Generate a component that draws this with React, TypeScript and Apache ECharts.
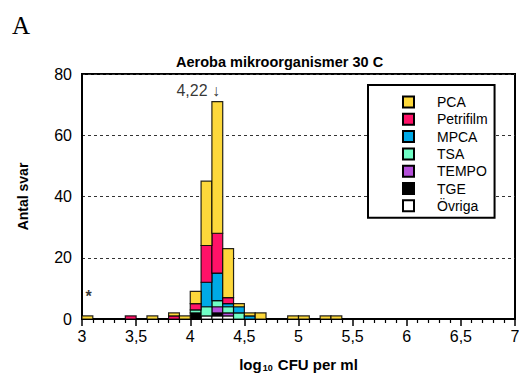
import React, { useEffect, useRef } from "react";
import * as echarts from "echarts";

// Lower edge of each 0.1-wide log10 bin that holds at least one answer
const BIN_STARTS = [3.0, 3.4, 3.6, 3.8, 3.9, 4.0, 4.1, 4.2, 4.3, 4.4, 4.5, 4.6, 4.9, 5.0, 5.2, 5.3];
const BIN_WIDTH = 0.1;

// Answers per method and bin (same order as BIN_STARTS)
const PCA = [1, 0, 1, 1, 1, 4, 21, 43, 16, 1, 1, 2, 1, 1, 1, 1];
const PETRIFILM = [0, 1, 0, 1, 0, 2, 12, 13, 2, 0, 0, 0, 0, 0, 0, 0];
const MPCA = [0, 0, 0, 0, 0, 0, 8, 9, 1, 2, 1, 0, 0, 0, 0, 0];
const TSA = [0, 0, 0, 0, 0, 1, 3, 2, 2, 2, 0, 0, 0, 0, 0, 0];
const TEMPO = [0, 0, 0, 0, 0, 0, 0, 2, 1, 0, 0, 0, 0, 0, 0, 0];
const TGE = [0, 0, 0, 0, 0, 2, 0, 1, 0, 0, 0, 0, 0, 0, 0, 0];
const OVRIGA = [0, 0, 0, 0, 0, 0, 1, 1, 1, 0, 0, 0, 0, 0, 0, 0];

const MEDIAN = 4.22;
const MEDIAN_LABEL = "4,22";
const OUTLIER_MARK = { x: 3.06, y: 7.5, text: "*" };

const X_TICKS = { min: 3, max: 7, step: 0.5 };
const Y_TICKS = { min: 0, max: 80, step: 20 };

// Legend order (top to bottom) = stack order (top to bottom)
const METHODS = [
  { name: "PCA", values: PCA, color: "#FDD83B" },
  { name: "Petrifilm", values: PETRIFILM, color: "#FF1268" },
  { name: "MPCA", values: MPCA, color: "#00A9E6" },
  { name: "TSA", values: TSA, color: "#70FFC6" },
  { name: "TEMPO", values: TEMPO, color: "#B44FD9" },
  { name: "TGE", values: TGE, color: "#000000" },
  { name: "Övriga", values: OVRIGA, color: "#FFFFFF" },
];

const FONT = "'Liberation Sans', Arial, sans-serif";

function buildStackedSeries() {
  const base = BIN_STARTS.map(() => 0);
  const stackBottomUp = [...METHODS].reverse();
  const series: any[] = [];
  for (const m of stackBottomUp) {
    const data: number[][] = [];
    m.values.forEach((v, i) => {
      if (v > 0) {
        const x0 = BIN_STARTS[i];
        data.push([x0, x0 + BIN_WIDTH, base[i], base[i] + v]);
        base[i] += v;
      }
    });
    series.push({
      name: m.name,
      type: "custom",
      itemStyle: { color: m.color, borderColor: "#000", borderWidth: 1.5 },
      encode: { x: [0, 1], y: [2, 3] },
      data,
      renderItem: (_params: any, api: any) => {
        const p0 = api.coord([api.value(0), api.value(2)]);
        const p1 = api.coord([api.value(1), api.value(3)]);
        return {
          type: "rect",
          shape: { x: p0[0], y: p1[1], width: p1[0] - p0[0], height: p0[1] - p1[1] },
          style: { fill: m.color, stroke: "rgba(0,0,0,0.85)", lineWidth: 1.2 },
        };
      },
    });
  }
  return series;
}

export default function App() {
  const ref = useRef<HTMLDivElement>(null);

  useEffect(() => {
    if (!ref.current) return;
    const chart = echarts.init(ref.current, undefined, { renderer: "svg" });
    const fmt = (v: number) => String(v).replace(".", ",");

    chart.setOption({
      animation: false,
      backgroundColor: "#fff",
      textStyle: { fontFamily: FONT },
      title: {
        text: "Aeroba mikroorganismer 30 C",
        left: 171,
        top: 49,
        textStyle: { fontFamily: FONT, fontSize: 14.5, fontWeight: "bold", color: "#000" },
      },
      graphic: [
        {
          type: "text",
          left: 12,
          top: 13,
          style: { text: "A", fontFamily: "'Liberation Serif', 'Times New Roman', serif", fontSize: 25, fill: "#000" },
        },
      ],
      legend: {
        data: METHODS.map((m) => m.name),
        orient: "vertical",
        left: 368,
        top: 85,
        icon: "rect",
        itemWidth: 11,
        itemHeight: 11,
        itemGap: 3.3,
        padding: [10, 7, 5, 34],
        borderColor: "#000",
        borderWidth: 2,
        backgroundColor: "#fff",
        itemStyle: { borderColor: "#000", borderWidth: 2 },
        textStyle: { fontFamily: FONT, fontSize: 14, lineHeight: 14, color: "#000", padding: [0, 0, 0, 18] },
      },
      grid: {
        left: 82,
        top: 74,
        right: 4,
        bottom: 55,
        outerBoundsMode: "none",
        containLabel: false,
        show: true,
        borderColor: "#000",
        borderWidth: 2,
        backgroundColor: "transparent",
      },
      xAxis: {
        type: "value",
        min: X_TICKS.min,
        max: X_TICKS.max,
        interval: X_TICKS.step,
        name: "{a|log}{s|10}{a| CFU per ml}",
        nameLocation: "middle",
        nameGap: 33,
        nameTextStyle: {
          lineHeight: 16,
          rich: {
            a: { fontFamily: FONT, fontSize: 15, fontWeight: "bold", color: "#000", lineHeight: 16, verticalAlign: "top" },
            s: { fontFamily: FONT, fontSize: 9, fontWeight: "bold", color: "#000", lineHeight: 16, verticalAlign: "bottom", padding: [15, 1, 0, 1] },
          },
        },
        axisLine: { show: true, lineStyle: { color: "#000", width: 2 } },
        axisTick: { show: true, length: 7, lineStyle: { color: "#000", width: 1.5 } },
        minorTick: { show: true, splitNumber: 5, length: 4, lineStyle: { color: "#000", width: 1.2 } },
        axisLabel: { fontFamily: FONT, fontSize: 16, color: "#000", margin: 9, formatter: fmt },
        splitLine: { show: false },
      },
      yAxis: {
        type: "value",
        min: Y_TICKS.min,
        max: Y_TICKS.max,
        interval: Y_TICKS.step,
        name: "Antal svar",
        nameLocation: "middle",
        nameGap: 52,
        nameTextStyle: { fontFamily: FONT, fontSize: 14, fontWeight: "bold", color: "#000" },
        axisLine: { show: true, lineStyle: { color: "#000", width: 2 } },
        axisTick: { show: false },
        axisLabel: { fontFamily: FONT, fontSize: 16, color: "#000", margin: 10 },
        splitLine: { show: true, lineStyle: { color: "#333", width: 1, type: [3, 3] } },
      },
      series: [
        ...buildStackedSeries(),
        {
          name: "median",
          type: "scatter",
          symbolSize: 0,
          data: [[MEDIAN, 74.5]],
          label: {
            show: true,
            position: "inside",
            align: "right",
            offset: [6, 0],
            formatter: `${MEDIAN_LABEL} ↓`,
            fontFamily: FONT,
            fontSize: 16,
            color: "#000",
          },
        },
        {
          name: "outlier",
          type: "scatter",
          symbolSize: 0,
          data: [[OUTLIER_MARK.x, OUTLIER_MARK.y]],
          label: {
            show: true,
            position: "inside",
            formatter: OUTLIER_MARK.text,
            fontFamily: FONT,
            fontSize: 16,
            fontWeight: "bold",
            color: "#000",
          },
        },
      ],
    });

    return () => chart.dispose();
  }, []);

  return <div ref={ref} style={{ position: "fixed", left: 0, top: 0, width: 519, height: 374 }} />;
}
